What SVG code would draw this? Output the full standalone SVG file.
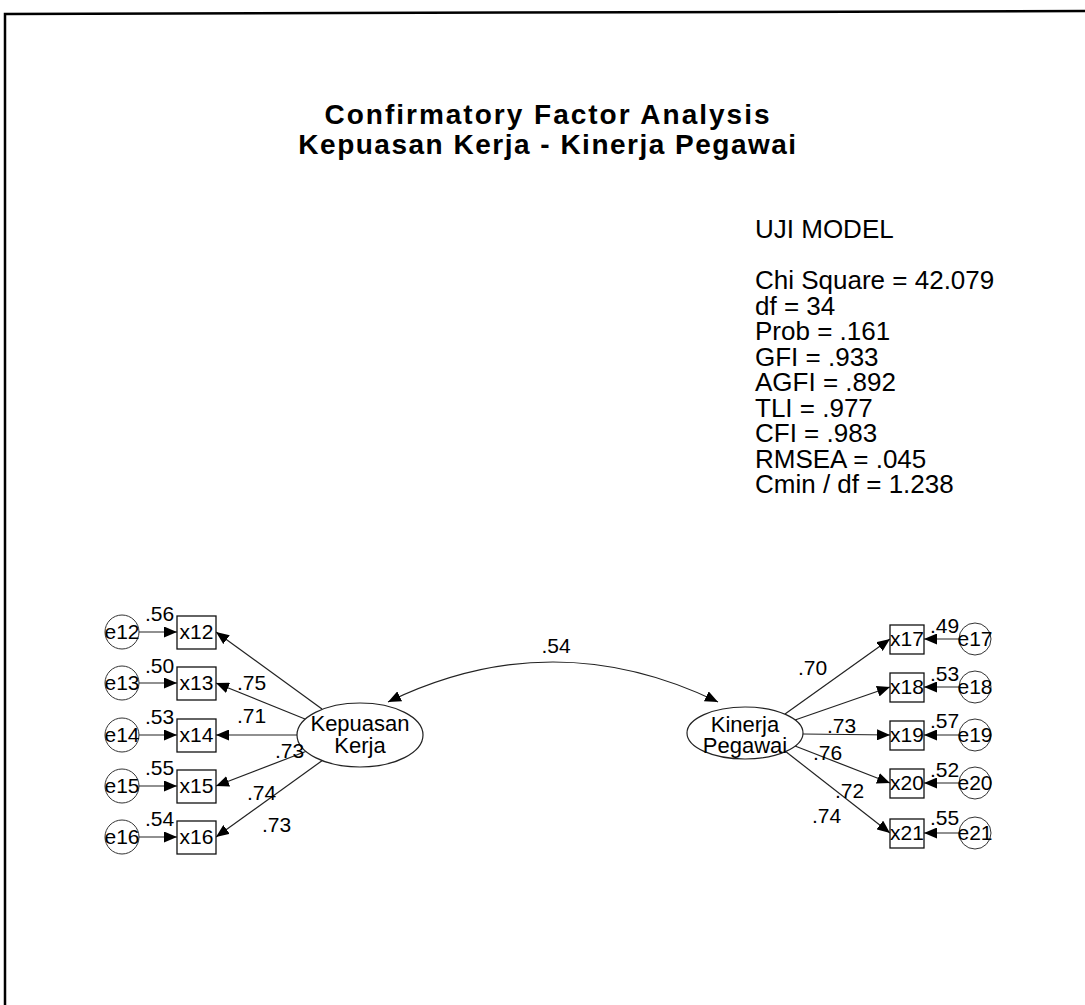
<svg xmlns="http://www.w3.org/2000/svg" width="1085" height="1005" viewBox="0 0 1085 1005">
<defs>
<style>
text{font-family:"Liberation Sans",Arial,sans-serif;fill:#000}
.t{font-size:28px;font-weight:bold;text-anchor:middle;letter-spacing:1.5px}
.s{font-size:26px}
.l{font-size:21px}
.c{font-size:21px;text-anchor:middle}
.e{font-size:22px;text-anchor:middle}
.box{fill:#fff;stroke:#111;stroke-width:1.3}
.err{fill:#fff;stroke:#333;stroke-width:1}
.lat{fill:#fff;stroke:#222;stroke-width:1.2}
.ln{fill:none;stroke:#222;stroke-width:1.2;marker-end:url(#ah)}
.arc{fill:none;stroke:#222;stroke-width:1.2;marker-start:url(#ah);marker-end:url(#ah)}
</style>
<marker id="ah" markerUnits="userSpaceOnUse" markerWidth="14" markerHeight="11" refX="13" refY="5.5" orient="auto-start-reverse">
<path d="M0,0 L13,5.5 L0,11 Z" fill="#000"/>
</marker>
</defs>
<rect width="1085" height="1005" fill="#fff"/>
<polyline points="5,1005 5,14 1085,11" fill="none" stroke="#000" stroke-width="2.5"/>

<g id="title">
<text class="t" x="548" y="124" style="letter-spacing:2px">Confirmatory Factor Analysis</text>
<text class="t" x="548" y="154">Kepuasan Kerja - Kinerja Pegawai</text>
</g>

<g id="stats">
<text class="s" x="755" y="238">UJI MODEL</text>
<text class="s" x="755" y="289">Chi Square = 42.079</text>
<text class="s" x="755" y="314.5">df = 34</text>
<text class="s" x="755" y="340">Prob = .161</text>
<text class="s" x="755" y="365.5">GFI = .933</text>
<text class="s" x="755" y="391">AGFI = .892</text>
<text class="s" x="755" y="416.5">TLI = .977</text>
<text class="s" x="755" y="442">CFI = .983</text>
<text class="s" x="755" y="467.5">RMSEA = .045</text>
<text class="s" x="755" y="493">Cmin / df = 1.238</text>
</g>

<g id="connectors">
<path class="arc" d="M388,702 Q553,622 718,702"/>
<line class="ln" x1="139" y1="632" x2="177" y2="632"/>
<line class="ln" x1="139" y1="683" x2="177" y2="683"/>
<line class="ln" x1="139" y1="735" x2="177" y2="735"/>
<line class="ln" x1="139" y1="786" x2="177" y2="786"/>
<line class="ln" x1="139" y1="837" x2="177" y2="837"/>
<line class="ln" x1="322" y1="709" x2="216" y2="632"/>
<line class="ln" x1="305" y1="719" x2="216" y2="683"/>
<line class="ln" x1="297" y1="735" x2="216" y2="735"/>
<line class="ln" x1="307" y1="751" x2="216" y2="786"/>
<line class="ln" x1="323" y1="760" x2="216" y2="837"/>
<line class="ln" x1="959" y1="639" x2="924" y2="639"/>
<line class="ln" x1="959" y1="687" x2="924" y2="687"/>
<line class="ln" x1="959" y1="735" x2="924" y2="735"/>
<line class="ln" x1="959" y1="783" x2="924" y2="783"/>
<line class="ln" x1="959" y1="833" x2="924" y2="833"/>
<line class="ln" x1="785" y1="714" x2="890" y2="639"/>
<line class="ln" x1="795" y1="720" x2="890" y2="687"/>
<line class="ln" x1="803" y1="734" x2="890" y2="735"/>
<line class="ln" x1="795" y1="746" x2="890" y2="783"/>
<line class="ln" x1="785" y1="751" x2="890" y2="833"/>
</g>

<g id="KepuasanKerja"><ellipse class="lat" cx="360" cy="735" rx="63" ry="32"/><text class="e" x="360" y="731">Kepuasan</text><text class="e" x="360" y="753">Kerja</text></g>
<g id="KinerjaPegawai"><ellipse class="lat" cx="745" cy="733" rx="58" ry="26"/><text class="e" x="745" y="732">Kinerja</text><text class="e" x="745" y="753">Pegawai</text></g>

<g id="x12"><rect class="box" x="177" y="616" width="39" height="33"/><text class="c" x="196.5" y="639">x12</text></g>
<g id="x13"><rect class="box" x="177" y="667" width="39" height="33"/><text class="c" x="196.5" y="690">x13</text></g>
<g id="x14"><rect class="box" x="177" y="719" width="39" height="33"/><text class="c" x="196.5" y="742">x14</text></g>
<g id="x15"><rect class="box" x="177" y="770" width="39" height="33"/><text class="c" x="196.5" y="793">x15</text></g>
<g id="x16"><rect class="box" x="177" y="821" width="39" height="33"/><text class="c" x="196.5" y="844">x16</text></g>

<g id="e12"><circle class="err" cx="122" cy="632" r="17"/><text class="c" x="122" y="639">e12</text></g>
<g id="e13"><circle class="err" cx="122" cy="683" r="17"/><text class="c" x="122" y="690">e13</text></g>
<g id="e14"><circle class="err" cx="122" cy="735" r="17"/><text class="c" x="122" y="742">e14</text></g>
<g id="e15"><circle class="err" cx="122" cy="786" r="17"/><text class="c" x="122" y="793">e15</text></g>
<g id="e16"><circle class="err" cx="122" cy="837" r="17"/><text class="c" x="122" y="844">e16</text></g>

<g id="x17"><rect class="box" x="890" y="625" width="34" height="29"/><text class="c" x="907" y="646">x17</text></g>
<g id="x18"><rect class="box" x="890" y="673" width="34" height="29"/><text class="c" x="907" y="694">x18</text></g>
<g id="x19"><rect class="box" x="890" y="721" width="34" height="29"/><text class="c" x="907" y="742">x19</text></g>
<g id="x20"><rect class="box" x="890" y="769" width="34" height="29"/><text class="c" x="907" y="790">x20</text></g>
<g id="x21"><rect class="box" x="890" y="819" width="34" height="29"/><text class="c" x="907" y="840">x21</text></g>

<g id="e17"><circle class="err" cx="975" cy="639" r="16"/><text class="c" x="975" y="646">e17</text></g>
<g id="e18"><circle class="err" cx="975" cy="687" r="16"/><text class="c" x="975" y="694">e18</text></g>
<g id="e19"><circle class="err" cx="975" cy="735" r="16"/><text class="c" x="975" y="742">e19</text></g>
<g id="e20"><circle class="err" cx="975" cy="783" r="16"/><text class="c" x="975" y="790">e20</text></g>
<g id="e21"><circle class="err" cx="975" cy="833" r="16"/><text class="c" x="975" y="840">e21</text></g>

<g id="labels">
<text class="c" x="556" y="653">.54</text>
<text class="l" x="145" y="621">.56</text>
<text class="l" x="145" y="673">.50</text>
<text class="l" x="145" y="724">.53</text>
<text class="l" x="145" y="775">.55</text>
<text class="l" x="145" y="826">.54</text>
<text class="l" x="237" y="690">.75</text>
<text class="l" x="237" y="723">.71</text>
<text class="l" x="275" y="758">.73</text>
<text class="l" x="247" y="800">.74</text>
<text class="l" x="262" y="832">.73</text>
<text class="l" x="930" y="633">.49</text>
<text class="l" x="930" y="681">.53</text>
<text class="l" x="930" y="728">.57</text>
<text class="l" x="930" y="777">.52</text>
<text class="l" x="930" y="825">.55</text>
<text class="l" x="798" y="675">.70</text>
<text class="l" x="827" y="733">.73</text>
<text class="l" x="813" y="760">.76</text>
<text class="l" x="835" y="798">.72</text>
<text class="l" x="812" y="823">.74</text>
</g>
</svg>
